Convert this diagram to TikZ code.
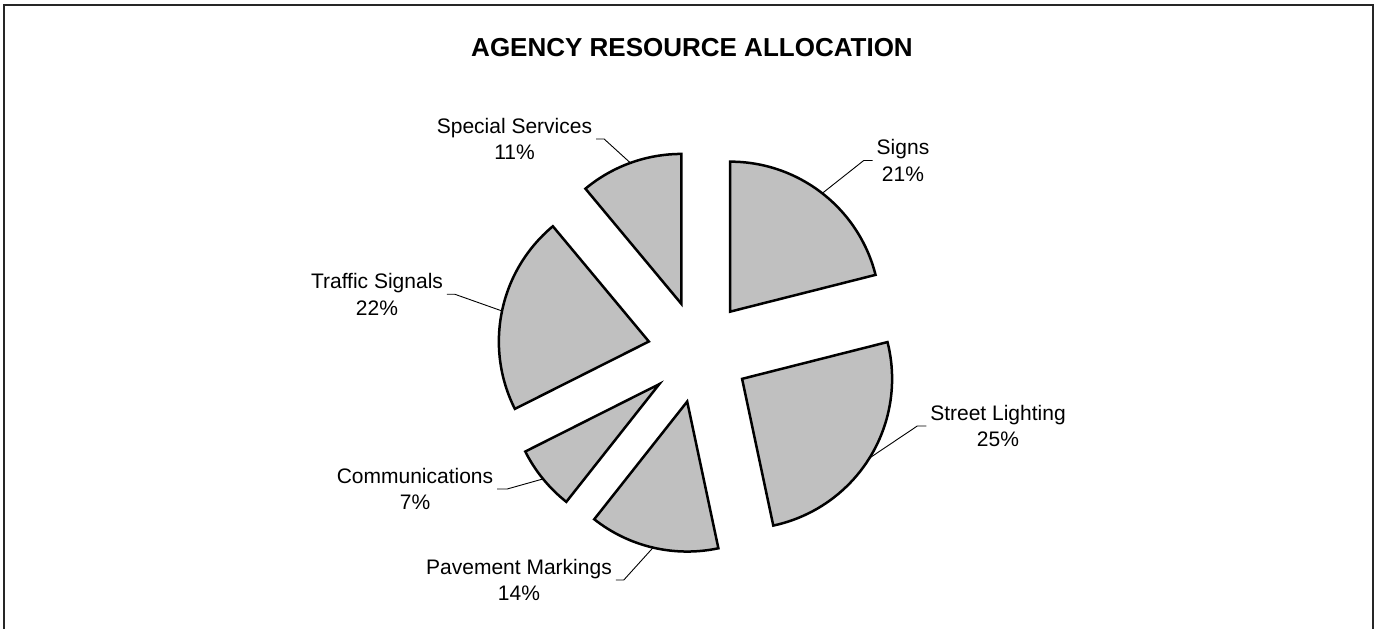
\documentclass[tikz,border=0pt]{standalone}
\usepackage{fontspec}
\setmainfont{Liberation Sans}
\usetikzlibrary{calc}
\definecolor{sliceGray}{HTML}{C0C0C0}
\begin{document}
\begin{tikzpicture}[x=1pt,y=1pt,
  slice/.style={draw=black, line width=2.5pt, fill=sliceGray, line join=miter},
  lbl/.style={font=\fontsize{21}{26.6}\selectfont, align=center, inner sep=0pt, outer sep=4pt},
  leader/.style={draw=black, line width=0.9pt},
  frame/.style={draw=black!85, line width=2pt},
  titlestyle/.style={font=\fontsize{26}{30}\selectfont\bfseries, inner sep=0pt, anchor=base}]
\useasboundingbox (0,0) rectangle (1377,629);
% frame (open at the bottom)
\draw[frame] (3.5,0) -- (3.5,624) -- (1373,624) -- (1373,0);
% title
\node[titlestyle] (title) at (692,572) {AGENCY RESOURCE ALLOCATION};
% pie
\coordinate (C) at (698.8,277.1);
\def\R{150}
\foreach \nm/\a/\b in {signs/90/14.2, light/14.2/-78, pave/-78/-128.3, comm/-128.3/-153.3, traf/-153.3/-230.2, spec/-230.2/-270}{
  \pgfmathsetmacro\m{(\a+\b)/2}
  \coordinate (\nm-apex) at ($(C)+(\m:51)$);
  \coordinate (\nm-tip) at ($(C)+(\m:201)$);
  \draw[slice] (\nm-apex) -- ++(\a:\R) arc[start angle=\a, end angle=\b, radius=\R] -- cycle;
}
% labels
\node[lbl] (spec)  at (514.5,490)   {Special Services\\11\%};
\node[lbl] (signs) at (903,468.5)   {Signs\\21\%};
\node[lbl] (traf)  at (377,334.7)   {Traffic Signals\\22\%};
\node[lbl] (light) at (998,203)     {Street Lighting\\25\%};
\node[lbl] (comm)  at (415,140)     {Communications\\7\%};
\node[lbl] (pave)  at (519,49)      {Pavement Markings\\14\%};
% leader lines
\draw[leader] (signs.west) -- ++(-9,0) -- (signs-tip);
\draw[leader] (spec.east)  -- ++(8,0)  -- (spec-tip);
\draw[leader] (traf.east)  -- ++(8,0)  -- (traf-tip);
\draw[leader] (light.west) -- ++(-9,0) -- (light-tip);
\draw[leader] (comm.east)  -- ++(10,0) -- (comm-tip);
\draw[leader] (pave.east)  -- ++(8,0)  -- (pave-tip);
\end{tikzpicture}
\end{document}
